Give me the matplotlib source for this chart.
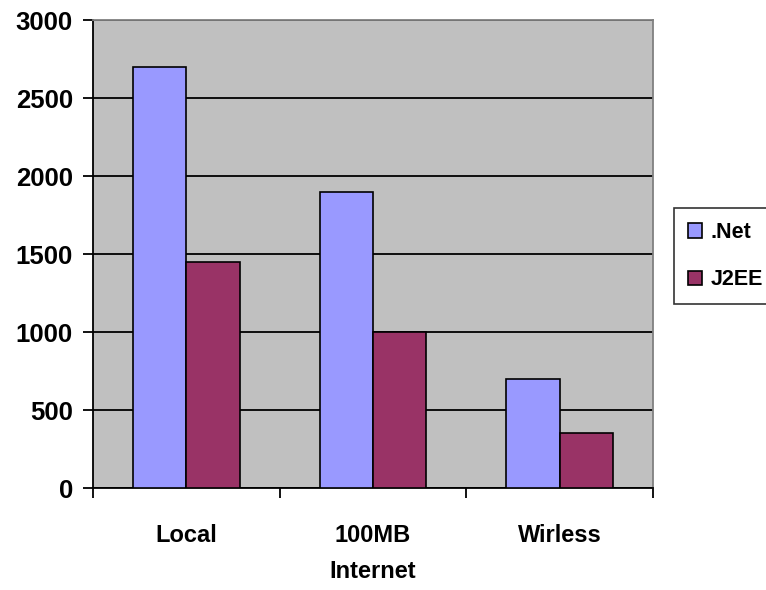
import matplotlib
matplotlib.use("Agg")
import matplotlib.pyplot as plt
import numpy as np

categories = ["Local", "100MB\nInternet", "Wirless"]
series_names = [".Net", "J2EE"]
net_values = [2700, 1900, 700]
j2ee_values = [1450, 1000, 350]
y_ticks = [0, 500, 1000, 1500, 2000, 2500, 3000]

net_color = "#9999FF"
j2ee_color = "#993366"
plot_bg = "#C0C0C0"

plt.rcParams["font.family"] = ["Liberation Sans", "DejaVu Sans"]
plt.rcParams["font.weight"] = "bold"

fig = plt.figure(figsize=(7.66, 5.90), dpi=100)
fig.patch.set_facecolor("white")
ax = fig.add_axes([93 / 766, 1 - 488 / 590, (653 - 93) / 766, (488 - 20) / 590])
ax.set_facecolor(plot_bg)

x = np.arange(len(categories))
bar_w = 0.286
ax.bar(x, net_values, width=-bar_w, align="edge", color=net_color,
       edgecolor="black", linewidth=1.2, label=series_names[0], zorder=3)
ax.bar(x, j2ee_values, width=bar_w, align="edge", color=j2ee_color,
       edgecolor="black", linewidth=1.2, label=series_names[1], zorder=3)

ax.set_xlim(-0.5, len(categories) - 0.5)
ax.set_ylim(0, 3000)

# horizontal gridlines
ax.set_yticks(y_ticks)
ax.yaxis.grid(True, color="black", linewidth=1.3, zorder=1)
ax.set_axisbelow(True)
ax.tick_params(axis="y", direction="out", length=7.5, width=1.3, pad=7,
               labelsize=18.5, colors="black")
for lab in ax.get_yticklabels():
    lab.set_fontweight("bold")

# category boundaries as major ticks, labels on minor ticks
ax.set_xticks(np.arange(len(categories) + 1) - 0.5)
ax.set_xticklabels([])
ax.tick_params(axis="x", which="major", direction="out", length=7, width=1.3)
ax.set_xticks(x, minor=True)
ax.set_xticklabels(categories, minor=True, fontsize=17, fontweight="bold",
                   linespacing=1.7)
ax.tick_params(axis="x", which="minor", length=0, pad=26)

for side in ("left", "bottom"):
    ax.spines[side].set_color("black")
    ax.spines[side].set_linewidth(1.3)
for side in ("top", "right"):
    ax.spines[side].set_color("#808080")
    ax.spines[side].set_linewidth(1.3)

leg = fig.legend(loc="upper left", bbox_to_anchor=(674 / 766, 1 - 208 / 590),
                 borderaxespad=0, frameon=True, fancybox=False, edgecolor="black",
                 handlelength=0.65, handleheight=0.65, handletextpad=0.4,
                 labelspacing=1.23, borderpad=0.65, prop={"weight": "bold", "size": 15.5})
leg.get_frame().set_linewidth(1.2)

fig.savefig("out.png", dpi=100)
